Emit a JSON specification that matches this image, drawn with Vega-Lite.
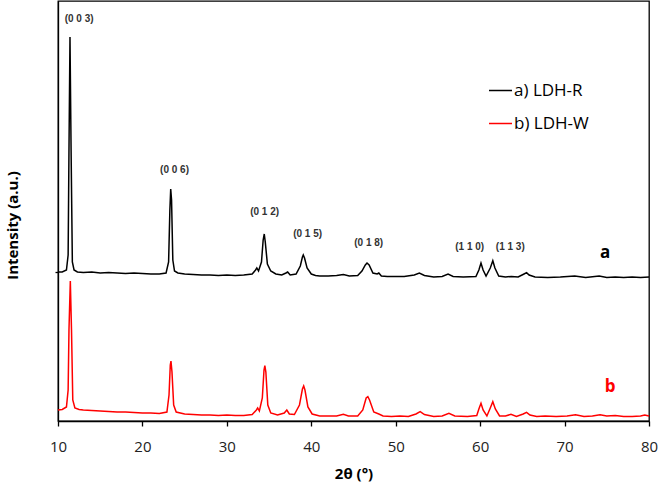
{
  "$schema": "https://vega.github.io/schema/vega-lite/v6.json",
  "width": 591,
  "height": 420,
  "autosize": "none",
  "padding": {"left": 58, "top": 1, "right": 12, "bottom": 64},
  "background": "white",
  "config": {
    "view": {"stroke": "black", "strokeWidth": 1.3},
    "font": "Open Sans"
  },
  "datasets": {
    "xrd": [
      {"s":"a) LDH-R","t":10.0,"i":149},{"s":"a) LDH-R","t":10.5,"i":149},{"s":"a) LDH-R","t":11.0,"i":151},{"s":"a) LDH-R","t":11.2,"i":166},{"s":"a) LDH-R","t":11.3,"i":271},{"s":"a) LDH-R","t":11.42,"i":384},{"s":"a) LDH-R","t":11.55,"i":271},{"s":"a) LDH-R","t":11.7,"i":159},{"s":"a) LDH-R","t":11.9,"i":151},{"s":"a) LDH-R","t":12.3,"i":149},
      {"s":"a) LDH-R","t":13,"i":148.5},{"s":"a) LDH-R","t":14,"i":149},{"s":"a) LDH-R","t":15,"i":148},{"s":"a) LDH-R","t":16,"i":148.5},{"s":"a) LDH-R","t":17,"i":148},{"s":"a) LDH-R","t":18,"i":147.5},{"s":"a) LDH-R","t":19,"i":148},{"s":"a) LDH-R","t":20,"i":147.5},{"s":"a) LDH-R","t":21,"i":147},{"s":"a) LDH-R","t":22,"i":147},
      {"s":"a) LDH-R","t":22.8,"i":148},{"s":"a) LDH-R","t":23.1,"i":159},{"s":"a) LDH-R","t":23.25,"i":211},{"s":"a) LDH-R","t":23.35,"i":232},{"s":"a) LDH-R","t":23.45,"i":221},{"s":"a) LDH-R","t":23.6,"i":161},{"s":"a) LDH-R","t":23.8,"i":150},{"s":"a) LDH-R","t":24.2,"i":148},
      {"s":"a) LDH-R","t":25,"i":147},{"s":"a) LDH-R","t":26,"i":146.5},{"s":"a) LDH-R","t":27,"i":146},{"s":"a) LDH-R","t":28,"i":146},{"s":"a) LDH-R","t":29,"i":145.5},{"s":"a) LDH-R","t":30,"i":146},{"s":"a) LDH-R","t":31,"i":145.5},{"s":"a) LDH-R","t":32,"i":146},{"s":"a) LDH-R","t":33,"i":147},
      {"s":"a) LDH-R","t":33.4,"i":151},{"s":"a) LDH-R","t":33.55,"i":153},{"s":"a) LDH-R","t":33.75,"i":150},{"s":"a) LDH-R","t":34.1,"i":159},{"s":"a) LDH-R","t":34.3,"i":181},{"s":"a) LDH-R","t":34.43,"i":187},{"s":"a) LDH-R","t":34.55,"i":179},{"s":"a) LDH-R","t":34.8,"i":157},{"s":"a) LDH-R","t":35.2,"i":150},{"s":"a) LDH-R","t":35.8,"i":147},
      {"s":"a) LDH-R","t":36.5,"i":146},{"s":"a) LDH-R","t":37.0,"i":148},{"s":"a) LDH-R","t":37.2,"i":149},{"s":"a) LDH-R","t":37.5,"i":146},{"s":"a) LDH-R","t":38.2,"i":147},{"s":"a) LDH-R","t":38.7,"i":155},{"s":"a) LDH-R","t":38.95,"i":164},{"s":"a) LDH-R","t":39.05,"i":166},{"s":"a) LDH-R","t":39.2,"i":163},{"s":"a) LDH-R","t":39.5,"i":153},
      {"s":"a) LDH-R","t":40,"i":147},{"s":"a) LDH-R","t":40.5,"i":145.5},{"s":"a) LDH-R","t":41,"i":145},{"s":"a) LDH-R","t":42,"i":145},{"s":"a) LDH-R","t":43,"i":145.5},{"s":"a) LDH-R","t":43.8,"i":146.5},{"s":"a) LDH-R","t":44.5,"i":145},{"s":"a) LDH-R","t":45.5,"i":145.5},
      {"s":"a) LDH-R","t":46.0,"i":150},{"s":"a) LDH-R","t":46.4,"i":156},{"s":"a) LDH-R","t":46.6,"i":158},{"s":"a) LDH-R","t":46.85,"i":156},{"s":"a) LDH-R","t":47.3,"i":148},{"s":"a) LDH-R","t":47.8,"i":147},{"s":"a) LDH-R","t":48.0,"i":148},{"s":"a) LDH-R","t":48.3,"i":145},
      {"s":"a) LDH-R","t":49,"i":144.5},{"s":"a) LDH-R","t":50,"i":144.5},{"s":"a) LDH-R","t":51,"i":144.5},{"s":"a) LDH-R","t":52.2,"i":146},{"s":"a) LDH-R","t":52.8,"i":148},{"s":"a) LDH-R","t":53.4,"i":145.5},{"s":"a) LDH-R","t":54.5,"i":144},{"s":"a) LDH-R","t":55.5,"i":144.5},{"s":"a) LDH-R","t":56.2,"i":147},{"s":"a) LDH-R","t":56.8,"i":144.5},
      {"s":"a) LDH-R","t":58,"i":144},{"s":"a) LDH-R","t":59.5,"i":144.5},{"s":"a) LDH-R","t":59.85,"i":151},{"s":"a) LDH-R","t":60.1,"i":158},{"s":"a) LDH-R","t":60.35,"i":151},{"s":"a) LDH-R","t":60.7,"i":145},{"s":"a) LDH-R","t":61.2,"i":153},{"s":"a) LDH-R","t":61.5,"i":160.3},{"s":"a) LDH-R","t":61.75,"i":153},{"s":"a) LDH-R","t":62.2,"i":145},
      {"s":"a) LDH-R","t":63,"i":144},{"s":"a) LDH-R","t":63.7,"i":144.5},{"s":"a) LDH-R","t":64.5,"i":144},{"s":"a) LDH-R","t":65.2,"i":147},{"s":"a) LDH-R","t":65.5,"i":148.3},{"s":"a) LDH-R","t":65.8,"i":146},{"s":"a) LDH-R","t":66.5,"i":144},{"s":"a) LDH-R","t":68,"i":143.5},{"s":"a) LDH-R","t":69.5,"i":144},
      {"s":"a) LDH-R","t":71.2,"i":145},{"s":"a) LDH-R","t":72.5,"i":143.5},{"s":"a) LDH-R","t":74.1,"i":145},{"s":"a) LDH-R","t":75,"i":143.5},{"s":"a) LDH-R","t":76,"i":144},{"s":"a) LDH-R","t":77,"i":143.5},{"s":"a) LDH-R","t":78,"i":144},{"s":"a) LDH-R","t":79,"i":143.5},{"s":"a) LDH-R","t":80,"i":144},

      {"s":"b) LDH-W","t":10.0,"i":11},{"s":"b) LDH-W","t":10.5,"i":11.5},{"s":"b) LDH-W","t":11.0,"i":14},{"s":"b) LDH-W","t":11.2,"i":31},{"s":"b) LDH-W","t":11.3,"i":91},{"s":"b) LDH-W","t":11.46,"i":140},{"s":"b) LDH-W","t":11.6,"i":91},{"s":"b) LDH-W","t":11.75,"i":21},{"s":"b) LDH-W","t":12.0,"i":13},{"s":"b) LDH-W","t":12.5,"i":11.5},
      {"s":"b) LDH-W","t":13,"i":11},{"s":"b) LDH-W","t":14,"i":10.5},{"s":"b) LDH-W","t":15,"i":10},{"s":"b) LDH-W","t":16,"i":9.5},{"s":"b) LDH-W","t":17,"i":9},{"s":"b) LDH-W","t":18,"i":9},{"s":"b) LDH-W","t":19,"i":8.5},{"s":"b) LDH-W","t":20,"i":8},{"s":"b) LDH-W","t":21,"i":8},{"s":"b) LDH-W","t":22,"i":7.5},
      {"s":"b) LDH-W","t":22.9,"i":9},{"s":"b) LDH-W","t":23.15,"i":26},{"s":"b) LDH-W","t":23.3,"i":56},{"s":"b) LDH-W","t":23.38,"i":60},{"s":"b) LDH-W","t":23.5,"i":49},{"s":"b) LDH-W","t":23.7,"i":16},{"s":"b) LDH-W","t":24.0,"i":9},
      {"s":"b) LDH-W","t":25,"i":7},{"s":"b) LDH-W","t":26,"i":6.5},{"s":"b) LDH-W","t":27,"i":6},{"s":"b) LDH-W","t":28,"i":6},{"s":"b) LDH-W","t":29,"i":5.5},{"s":"b) LDH-W","t":30,"i":6},{"s":"b) LDH-W","t":31,"i":5.5},{"s":"b) LDH-W","t":32,"i":5.5},{"s":"b) LDH-W","t":33,"i":6.5},
      {"s":"b) LDH-W","t":33.5,"i":11},{"s":"b) LDH-W","t":33.65,"i":13},{"s":"b) LDH-W","t":33.85,"i":10},{"s":"b) LDH-W","t":34.2,"i":23},{"s":"b) LDH-W","t":34.4,"i":51},{"s":"b) LDH-W","t":34.5,"i":55.3},{"s":"b) LDH-W","t":34.62,"i":49},{"s":"b) LDH-W","t":34.85,"i":16},{"s":"b) LDH-W","t":35.2,"i":8},
      {"s":"b) LDH-W","t":36,"i":6},{"s":"b) LDH-W","t":36.8,"i":8},{"s":"b) LDH-W","t":37.1,"i":11},{"s":"b) LDH-W","t":37.4,"i":7},{"s":"b) LDH-W","t":38,"i":6.5},{"s":"b) LDH-W","t":38.6,"i":16},{"s":"b) LDH-W","t":38.95,"i":32},{"s":"b) LDH-W","t":39.1,"i":35},{"s":"b) LDH-W","t":39.25,"i":31},{"s":"b) LDH-W","t":39.6,"i":14},
      {"s":"b) LDH-W","t":40.1,"i":7},{"s":"b) LDH-W","t":41,"i":5},{"s":"b) LDH-W","t":42,"i":5},{"s":"b) LDH-W","t":43,"i":5},{"s":"b) LDH-W","t":43.8,"i":6.7},{"s":"b) LDH-W","t":44.4,"i":5},{"s":"b) LDH-W","t":45.5,"i":5},
      {"s":"b) LDH-W","t":46.1,"i":11},{"s":"b) LDH-W","t":46.5,"i":23},{"s":"b) LDH-W","t":46.7,"i":24.3},{"s":"b) LDH-W","t":46.9,"i":21},{"s":"b) LDH-W","t":47.4,"i":9},{"s":"b) LDH-W","t":48,"i":7},{"s":"b) LDH-W","t":48.5,"i":5},
      {"s":"b) LDH-W","t":49.5,"i":4.5},{"s":"b) LDH-W","t":50.5,"i":5},{"s":"b) LDH-W","t":51.5,"i":4.5},{"s":"b) LDH-W","t":52.4,"i":7},{"s":"b) LDH-W","t":52.9,"i":9.3},{"s":"b) LDH-W","t":53.4,"i":6.5},{"s":"b) LDH-W","t":54.5,"i":4.5},{"s":"b) LDH-W","t":55.5,"i":5},{"s":"b) LDH-W","t":56.3,"i":7.7},{"s":"b) LDH-W","t":57,"i":5},
      {"s":"b) LDH-W","t":58.5,"i":4.5},{"s":"b) LDH-W","t":59.6,"i":5.5},{"s":"b) LDH-W","t":59.85,"i":12},{"s":"b) LDH-W","t":60.1,"i":17.7},{"s":"b) LDH-W","t":60.35,"i":11},{"s":"b) LDH-W","t":60.8,"i":5},{"s":"b) LDH-W","t":61.2,"i":13},{"s":"b) LDH-W","t":61.5,"i":19.3},{"s":"b) LDH-W","t":61.8,"i":12},{"s":"b) LDH-W","t":62.3,"i":5},
      {"s":"b) LDH-W","t":63,"i":5},{"s":"b) LDH-W","t":63.65,"i":6.7},{"s":"b) LDH-W","t":64.3,"i":4.5},{"s":"b) LDH-W","t":65.1,"i":7},{"s":"b) LDH-W","t":65.5,"i":8.7},{"s":"b) LDH-W","t":65.9,"i":6},{"s":"b) LDH-W","t":66.7,"i":4.5},{"s":"b) LDH-W","t":67.7,"i":5},{"s":"b) LDH-W","t":69,"i":4.5},
      {"s":"b) LDH-W","t":70.3,"i":5},{"s":"b) LDH-W","t":71.3,"i":6.3},{"s":"b) LDH-W","t":72.3,"i":4.5},{"s":"b) LDH-W","t":73.3,"i":5},{"s":"b) LDH-W","t":74.2,"i":6.3},{"s":"b) LDH-W","t":75,"i":5},{"s":"b) LDH-W","t":76,"i":5.5},{"s":"b) LDH-W","t":77,"i":4.5},{"s":"b) LDH-W","t":78,"i":4.5},{"s":"b) LDH-W","t":79,"i":5},{"s":"b) LDH-W","t":79.5,"i":6},{"s":"b) LDH-W","t":80,"i":5}
    ],
    "peaks": [
      {"t":12.5,"i":402,"label":"(0 0 3)"},
      {"t":23.8,"i":251,"label":"(0 0 6)"},
      {"t":34.47,"i":209,"label":"(0 1 2)"},
      {"t":39.57,"i":187,"label":"(0 1 5)"},
      {"t":46.8,"i":178,"label":"(0 1 8)"},
      {"t":58.76,"i":174,"label":"(1 1 0)"},
      {"t":63.57,"i":174,"label":"(1 1 3)"}
    ],
    "tags": [
      {"t":74.8,"i":168.3,"tag":"a","s":"a"},
      {"t":75.4,"i":34.3,"tag":"b","s":"b"}
    ]
  },
  "layer": [
    {
      "data": {"name": "xrd"},
      "mark": {"type": "line", "strokeWidth": 1.5},
      "encoding": {
        "x": {
          "field": "t", "type": "quantitative",
          "scale": {"domain": [10, 80], "nice": false, "zero": false},
          "axis": {
            "title": "2θ (°)", "values": [10,20,30,40,50,60,70,80],
            "grid": false, "domainColor": "black", "domainWidth": 1.3,
            "tickColor": "black", "tickSize": 5, "tickWidth": 1.3,
            "labelFlush": false, "labelOverlap": false,
            "labelFont": "Open Sans", "labelFontSize": 15, "labelColor": "#222", "labelPadding": 13,
            "titleFont": "Open Sans", "titleFontSize": 15, "titleFontWeight": "bold", "titleColor": "black", "titlePadding": 12
          }
        },
        "y": {
          "field": "i", "type": "quantitative",
          "scale": {"domain": [0, 420], "nice": false},
          "axis": {
            "title": "Intensity (a.u.)", "labels": false, "values": [149], "ticks": true,
            "tickSize": 3, "tickColor": "black", "tickWidth": 1.3, "grid": false,
            "domainColor": "black", "domainWidth": 1.3,
            "titleFont": "Open Sans", "titleFontSize": 15, "titleFontWeight": "bold", "titleColor": "black", "titlePadding": 34,
            "titleY": 224
          }
        },
        "color": {
          "field": "s", "type": "nominal",
          "scale": {"domain": ["a) LDH-R", "b) LDH-W"], "range": ["#000000", "#ff0000"]},
          "legend": {
            "title": null, "orient": "none", "legendX": 430, "legendY": 77, "padding": 0,
            "symbolType": "stroke", "symbolSize": 529, "symbolStrokeWidth": 1.5,
            "labelFont": "Open Sans", "labelFontSize": 17, "labelColor": "black", "labelOffset": 1,
            "rowPadding": 12
          }
        }
      }
    },
    {
      "data": {"name": "peaks"},
      "mark": {"type": "text", "font": "Liberation Sans", "fontSize": 10, "fontWeight": "bold", "color": "#333", "baseline": "middle", "align": "center"},
      "encoding": {
        "x": {"field": "t", "type": "quantitative"},
        "y": {"field": "i", "type": "quantitative"},
        "text": {"field": "label"}
      }
    },
    {
      "data": {"name": "tags"},
      "transform": [{"filter": "datum.s === 'a'"}],
      "mark": {"type": "text", "font": "Open Sans", "fontSize": 17, "fontWeight": "bold", "color": "black", "baseline": "middle", "align": "center"},
      "encoding": {
        "x": {"field": "t", "type": "quantitative"},
        "y": {"field": "i", "type": "quantitative"},
        "text": {"field": "tag"}
      }
    },
    {
      "data": {"name": "tags"},
      "transform": [{"filter": "datum.s === 'b'"}],
      "mark": {"type": "text", "font": "Open Sans", "fontSize": 17, "fontWeight": "bold", "color": "#ff0000", "baseline": "middle", "align": "center"},
      "encoding": {
        "x": {"field": "t", "type": "quantitative"},
        "y": {"field": "i", "type": "quantitative"},
        "text": {"field": "tag"}
      }
    }
  ]
}
